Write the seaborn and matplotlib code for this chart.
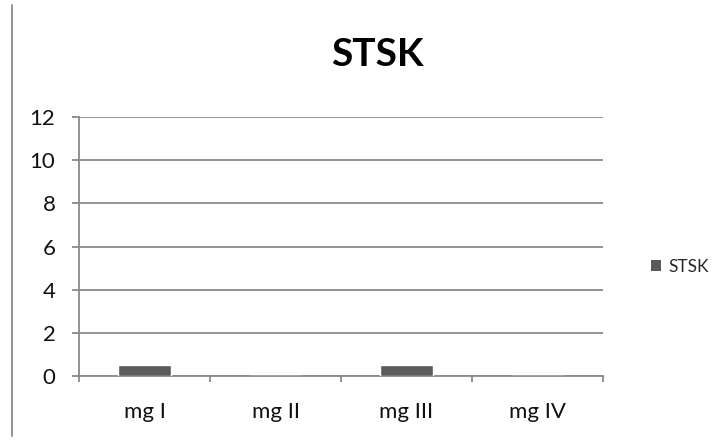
import matplotlib
matplotlib.use("Agg")
import matplotlib.pyplot as plt
from matplotlib.lines import Line2D
from matplotlib.patches import Patch
import seaborn as sns
import pandas as pd

categories = ["mg I", "mg II", "mg III", "mg IV"]
stsk_values = [0.5, 0.0, 0.5, 0.0]
series_name = "STSK"
y_ticks = [0, 2, 4, 6, 8, 10, 12]

sns.set_theme(style="white")
plt.rcParams["font.family"] = ["Lato", "DejaVu Sans"]

df = pd.DataFrame({"category": categories, "value": stsk_values})

fig = plt.figure(figsize=(7.25, 4.4), dpi=100)
ax = fig.add_axes([79 / 725, 1 - 376 / 440, (603 - 79) / 725, (376 - 117) / 440])

grid_col = "#898989"
bar_col = "#5a5a5a"

sns.barplot(data=df, x="category", y="value", color=bar_col, width=0.4,
            saturation=1, ax=ax, zorder=3)

ax.set_ylim(0, 12)
ax.set_xlim(-0.5, 3.5)
ax.set_yticks(y_ticks)
ax.set_yticklabels([str(t) for t in y_ticks], fontsize=16, color="#111111")
ax.yaxis.grid(True, color=grid_col, linewidth=1.3, zorder=0)
ax.set_axisbelow(True)
ax.set_xlabel("")
ax.set_ylabel("")

for side in ["top", "right"]:
    ax.spines[side].set_visible(False)
for side in ["left", "bottom"]:
    ax.spines[side].set_color(grid_col)
    ax.spines[side].set_linewidth(1.3)

ax.tick_params(axis="y", which="major", length=5, width=1.3, color=grid_col,
               direction="out", pad=12, left=True)
# category labels centred, tick marks at category boundaries
ax.set_xticks(range(len(categories)))
ax.set_xticklabels(categories, fontsize=16, color="#111111")
ax.tick_params(axis="x", which="major", length=0, pad=19)
ax.set_xticks([-0.5, 0.5, 1.5, 2.5, 3.5], minor=True)
ax.tick_params(axis="x", which="minor", length=4.5, width=1.3, color=grid_col,
               direction="out", bottom=True)

fig.text(377 / 725, 1 - 55 / 440, "STSK", fontsize=28, fontweight="bold",
         ha="center", va="center", color="#000000")

handle = Patch(facecolor=bar_col, edgecolor="none")
fig.legend([handle], [series_name], loc="center left",
           bbox_to_anchor=(651 / 725, 1 - 267 / 440), frameon=False,
           fontsize=12.5, handlelength=0.6, handleheight=0.6, handletextpad=0.4,
           borderaxespad=0, borderpad=0)

fig.add_artist(Line2D([12 / 725, 12 / 725], [1 - 5 / 440, 1 - 436 / 440],
                      color=grid_col, linewidth=1.3, transform=fig.transFigure))

fig.savefig("out.png", dpi=100)
